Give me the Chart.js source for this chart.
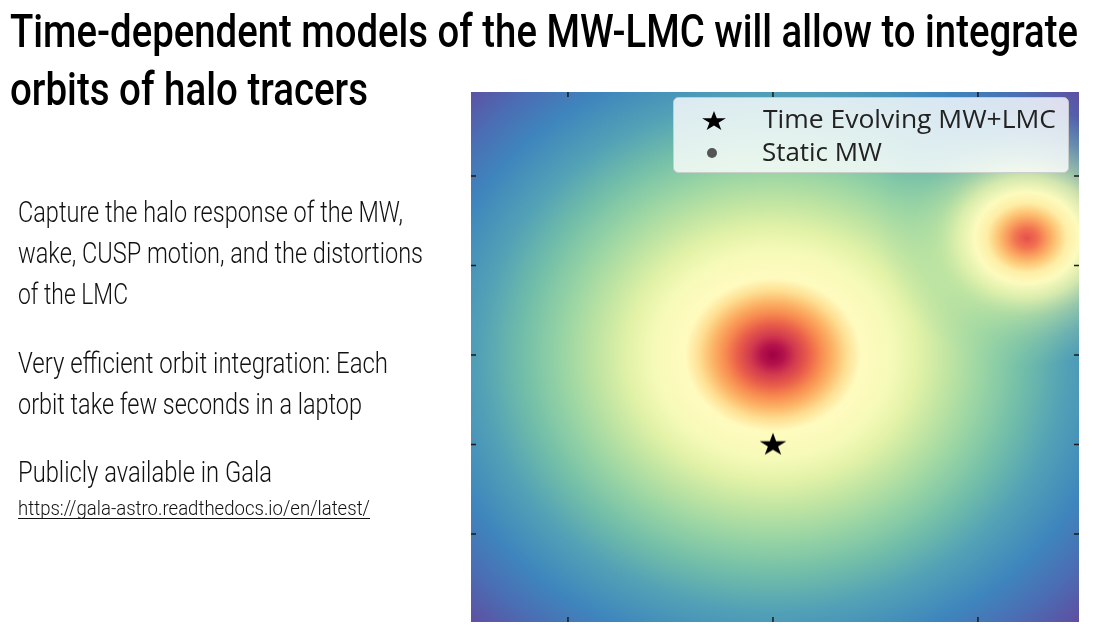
<!DOCTYPE html>
<html><head><meta charset="utf-8">
<script src="https://cdn.jsdelivr.net/npm/chart.js@4.4.1/dist/chart.umd.min.js"></script>
<style>
html,body{margin:0;padding:0;background:#fff;}
#wrap{position:relative;width:1093px;height:631px;overflow:hidden;background:#fff;}
#c{position:absolute;left:0;top:0;display:block;}
#txt{position:absolute;left:0;top:0;}
</style></head><body>
<div id="wrap"><canvas id="c" width="1093" height="631"></canvas><svg id="txt" width="1093" height="631" xmlns="http://www.w3.org/2000/svg"></svg></div>
<script>
// ---- data ----
const xLimits = [-147.3, 149.3];
const yLimits = [-149.2, 146.9];
const xTickValues = [-100, 0, 100];
const yTickValues = [-100, -50, 0, 50, 100];
const seriesLabels = ['Time Evolving MW+LMC', 'Static MW'];
const timeEvolvingX = [0];
const timeEvolvingY = [-50];
const staticMWX = [];
const staticMWY = [];
const mwCenter = [0, 0];
const lmcCenter = [123.9, 65.4];
const mwRadii  = [0, 5.5, 11, 17, 23, 29.5, 36, 43, 58, 71, 86, 103, 122, 143, 168, 189, 210];
const mwColors = ['#9e0142','#b4124b','#d23a4e','#e85c4a','#f7894f','#fcb467','#fedf92','#fffbbf',
                  '#f6fab8','#e2f2a7','#bfe4a2','#98d4a4','#72bea9','#52a1b6','#3e86bd','#4b6db3','#5e4fa2'];
const lmcRadii  = [0, 5.5, 9.5, 14.5, 19.5, 25.5, 34, 44, 57, 72];
const lmcColors = ['rgba(230,80,75,1)','rgba(241,114,80,1)','rgba(249,154,92,1)','rgba(253,200,120,1)',
                   'rgba(254,238,166,1)','rgba(252,251,190,1)','rgba(236,246,172,0.85)','rgba(210,237,160,0.55)',
                   'rgba(185,227,160,0.25)','rgba(160,215,165,0)'];

// ---- text ----
const titleLines = ['Time-dependent models of the MW-LMC will allow to integrate', 'orbits of halo tracers'];
const bodyLines = ['Capture the halo response of the MW,', 'wake, CUSP motion, and the distortions', 'of the LMC',
                   'Very efficient orbit integration: Each', 'orbit take few seconds in a laptop', 'Publicly available in Gala'];
const linkText = 'https://gala-astro.readthedocs.io/en/latest/';

function starPath(ctx, cx, cy, rx, ry) {
  const inner = 0.381966;
  ctx.beginPath();
  for (let i = 0; i < 10; i++) {
    const a = -Math.PI / 2 + i * Math.PI / 5;
    const r = (i % 2 === 0) ? 1 : inner;
    const px = cx + Math.cos(a) * r * rx, py = cy + Math.sin(a) * r * ry;
    if (i === 0) ctx.moveTo(px, py); else ctx.lineTo(px, py);
  }
  ctx.closePath();
}
function starPoints(cx, cy, rx, ry) {
  const inner = 0.381966, pts = [];
  for (let i = 0; i < 10; i++) {
    const a = -Math.PI / 2 + i * Math.PI / 5;
    const r = (i % 2 === 0) ? 1 : inner;
    pts.push((cx + Math.cos(a) * r * rx).toFixed(2) + ',' + (cy + Math.sin(a) * r * ry).toFixed(2));
  }
  return pts.join(' ');
}
const starImg = document.createElement('canvas');
starImg.width = 30; starImg.height = 28;
(function(){ const g = starImg.getContext('2d'); starPath(g, 15, 14.5, 14, 12.2); g.fillStyle = '#000'; g.fill(); })();

const haloField = {
  id: 'haloField',
  beforeDatasetsDraw(chart) {
    const {ctx, chartArea: a, scales: {x, y}} = chart;
    const kx = Math.abs(x.getPixelForValue(1) - x.getPixelForValue(0));
    const ky = Math.abs(y.getPixelForValue(1) - y.getPixelForValue(0));
    ctx.save();
    ctx.beginPath(); ctx.rect(a.left, a.top, a.right - a.left, a.bottom - a.top); ctx.clip();
    function blob(center, radii, colors) {
      const cx = x.getPixelForValue(center[0]), cy = y.getPixelForValue(center[1]);
      const R = radii[radii.length - 1];
      ctx.save();
      ctx.translate(cx, cy); ctx.scale(kx, ky);
      const g = ctx.createRadialGradient(0, 0, 0, 0, 0, R);
      radii.forEach((r, i) => g.addColorStop(r / R, colors[i]));
      ctx.fillStyle = g;
      ctx.fillRect((a.left - cx) / kx - 1, (a.top - cy) / ky - 1, (a.right - a.left) / kx + 2, (a.bottom - a.top) / ky + 2);
      ctx.restore();
    }
    blob(mwCenter, mwRadii, mwColors);
    blob(lmcCenter, lmcRadii, lmcColors);
    ctx.restore();
  }
};
const tickMarks = {
  id: 'tickMarks',
  afterDraw(chart) {
    const {ctx, chartArea: a, scales: {x, y}} = chart;
    ctx.save();
    ctx.strokeStyle = '#1a1a1a'; ctx.lineWidth = 1.5;
    ctx.beginPath();
    xTickValues.forEach(v => { const p = x.getPixelForValue(v);
      ctx.moveTo(p, a.top); ctx.lineTo(p, a.top + 5); ctx.moveTo(p, a.bottom); ctx.lineTo(p, a.bottom - 5); });
    yTickValues.forEach(v => { const p = y.getPixelForValue(v);
      ctx.moveTo(a.left, p); ctx.lineTo(a.left + 5, p); ctx.moveTo(a.right, p); ctx.lineTo(a.right - 5, p); });
    ctx.stroke();
    ctx.restore();
  }
};

const chart = new Chart(document.getElementById('c'), {
  type: 'scatter',
  data: {
    datasets: [
      { label: seriesLabels[0], data: timeEvolvingX.map((v, i) => ({x: v, y: timeEvolvingY[i]})),
        pointStyle: starImg, pointRadius: 14, backgroundColor: '#000', borderColor: '#000' },
      { label: seriesLabels[1], data: staticMWX.map((v, i) => ({x: v, y: staticMWY[i]})),
        pointStyle: 'circle', pointRadius: 5, backgroundColor: '#555', borderColor: '#555' }
    ]
  },
  options: {
    responsive: false, animation: false, devicePixelRatio: 1,
    layout: { autoPadding: false, padding: { left: 471, top: 92, right: 14, bottom: 9 } },
    scales: {
      x: { type: 'linear', min: xLimits[0], max: xLimits[1], display: false },
      y: { type: 'linear', min: yLimits[0], max: yLimits[1], display: false }
    },
    plugins: { legend: { display: false }, tooltip: { enabled: false } }
  },
  plugins: [haloField, tickMarks]
});

// ---- text overlay (real text) ----
const svg = document.getElementById('txt');
const NS = 'http://www.w3.org/2000/svg';
function addText(str, x, y, len, size, weight, family, fill) {
  const t = document.createElementNS(NS, 'text');
  t.setAttribute('x', x); t.setAttribute('y', y);
  if (len) { t.setAttribute('textLength', len); t.setAttribute('lengthAdjust', 'spacingAndGlyphs'); }
  t.setAttribute('font-size', size); t.setAttribute('font-weight', weight);
  t.setAttribute('font-family', family); t.setAttribute('fill', fill);
  t.textContent = str; svg.appendChild(t); return t;
}
function addEl(tag, attrs) { const e = document.createElementNS(NS, tag); Object.keys(attrs).forEach(k => e.setAttribute(k, attrs[k])); svg.appendChild(e); return e; }

const titleFont = 'Roboto, "DejaVu Sans Condensed", sans-serif';
addText(titleLines[0], 10, 47, 1068, 46, 500, titleFont, '#000');
addText(titleLines[1], 10, 105, 358, 46, 500, titleFont, '#000');
const bodyY = [222, 263, 304, 373, 414, 482];
const bodyW = [385, 405, 110, 370, 344, 254];
bodyLines.forEach((s, i) => addText(s, 18, bodyY[i], bodyW[i], 30, 300, titleFont, '#111'));
addText(linkText, 18, 515, 352, 21, 300, titleFont, '#111');
addEl('line', {x1: 18, y1: 518.5, x2: 370, y2: 518.5, stroke: '#111', 'stroke-width': 1.2});

// legend built from chart datasets
addEl('rect', {x: 673.5, y: 97.5, width: 395, height: 75, rx: 5, ry: 5, fill: 'rgba(255,255,255,0.8)', stroke: 'rgba(204,204,204,0.9)', 'stroke-width': 1});
const legendFont = '"Open Sans", "DejaVu Sans", sans-serif';
const ds = chart.data.datasets;
addEl('polygon', {points: starPoints(714, 121.5, 12.5, 10.5), fill: ds[0].backgroundColor});
addText(ds[0].label, 763, 128, 293, 25, 400, legendFont, '#222');
addEl('circle', {cx: 712, cy: 153, r: 5, fill: ds[1].backgroundColor});
addText(ds[1].label, 762, 161, 120, 25, 400, legendFont, '#222');
</script>
</body></html>
